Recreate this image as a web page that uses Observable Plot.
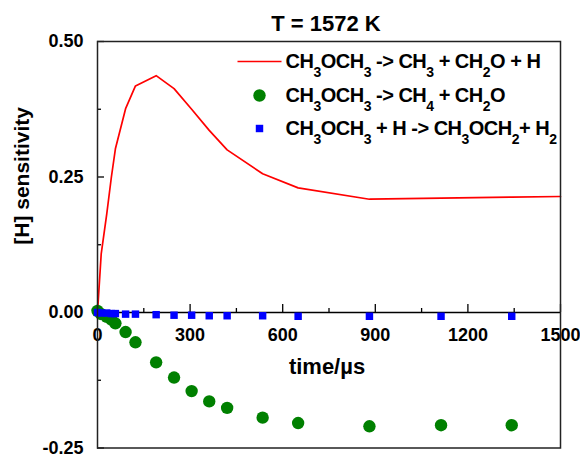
<!DOCTYPE html>
<html><head><meta charset="utf-8">
<script src="https://cdn.jsdelivr.net/npm/d3@7"></script>
<script src="https://cdn.jsdelivr.net/npm/@observablehq/plot@0.6"></script>
<style>body{margin:0;background:#fff} svg{display:block}</style>
</head><body><div id="chart"></div>
<script>
const title = "T = 1572 K";
const xLabel = "time/µs";
const yLabel = "[H] sensitivity";
const seriesNames = [
  "CH3OCH3 -> CH3 + CH2O + H",
  "CH3OCH3 -> CH4 + CH2O",
  "CH3OCH3 + H -> CH3OCH2+ H2"
];
const redTime  = [0, 12, 30, 45, 58, 91, 123, 190, 248, 305, 362, 420, 535, 650, 881, 1113, 1342, 1500];
const redValue = [0, 0.108, 0.182, 0.250, 0.302, 0.376, 0.418, 0.437, 0.413, 0.375, 0.336, 0.300, 0.256, 0.230, 0.209, 0.211, 0.213, 0.214];
const markerTime = [0, 12, 30, 45, 58, 91, 123, 190, 248, 305, 362, 420, 535, 650, 881, 1113, 1342];
const greenValue = [0.003, -0.003, -0.008, -0.013, -0.020, -0.036, -0.055, -0.092, -0.120, -0.145, -0.164, -0.176, -0.194, -0.204, -0.210, -0.208, -0.208];
const blueValue  = [0, -0.001, -0.001, -0.002, -0.002, -0.003, -0.003, -0.004, -0.005, -0.005, -0.006, -0.006, -0.006, -0.007, -0.007, -0.007, -0.007];
const xTickValues = [0, 300, 600, 900, 1200, 1500];
const xTickLabels = ["0", "300", "600", "900", "1200", "1500"];
const xMinorTicks = [150, 450, 750, 1050, 1350];
const yTickValues = [-0.25, 0, 0.25, 0.5];
const yTickLabels = ["-0.25", "0.00", "0.25", "0.50"];
const yMinorTicks = [-0.125, 0.125, 0.375];

const redData = redTime.map((t, i) => ({t, v: redValue[i]}));
const greenData = markerTime.map((t, i) => ({t, v: greenValue[i]}));
const blueData = markerTime.map((t, i) => ({t, v: blueValue[i]}));
const font = "Liberation Sans, Arial, sans-serif";
const lineSymbol = {draw(ctx) { ctx.moveTo(-22, 0); ctx.lineTo(22, 0); }};
const rowDy = [20, 54, 87];
const legendText = (name, k) => Plot.text([name], {frameAnchor: "top-left", lineAnchor: "middle", dx: 188, dy: rowDy[k], textAnchor: "start", fontSize: 20, fontWeight: "bold", fill: "#000"});

const svg = Plot.plot({
  width: 580, height: 456,
  marginLeft: 97, marginRight: 20, marginTop: 41, marginBottom: 8.5,
  style: {fontFamily: font, background: "#fff", overflow: "visible"},
  x: {domain: [0, 1500], axis: null},
  y: {domain: [-0.25, 0.5], axis: null},
  marks: [
    Plot.ruleY([0], {stroke: "#000", strokeWidth: 1.5}),
    Plot.ruleX(xTickValues, {x: d => d, y1: 0, y2: 0, insetTop: -8, stroke: "#000", strokeWidth: 1.3}),
    Plot.ruleX(xMinorTicks, {x: d => d, y1: 0, y2: 0, insetTop: -4, stroke: "#000", strokeWidth: 1.3}),
    Plot.ruleY(yTickValues, {y: d => d, x1: 0, x2: 0, insetRight: -7, stroke: "#000", strokeWidth: 1.3}),
    Plot.ruleY(yMinorTicks, {y: d => d, x1: 0, x2: 0, insetRight: -4, stroke: "#000", strokeWidth: 1.3}),
    Plot.text(xTickValues, {x: d => d, y: 0, text: (d, i) => xTickLabels[i], dy: 23, fontSize: 18, fontWeight: "bold", fill: "#000"}),
    Plot.text(yTickValues, {y: d => d, frameAnchor: "left", text: (d, i) => yTickLabels[i], dx: -14, textAnchor: "end", fontSize: 18, fontWeight: "bold", fill: "#000"}),
    Plot.line(redData, {x: "t", y: "v", stroke: "#ff0000", strokeWidth: 1.7}),
    Plot.dot(greenData, {x: "t", y: "v", r: 6.2, fill: "#008000", stroke: "none"}),
    Plot.dot(blueData, {x: "t", y: "v", r: 4.2, symbol: "square", fill: "#0000ff", stroke: "none"}),
    Plot.frame({stroke: "#222", strokeWidth: 1.5}),
    Plot.text([title], {frameAnchor: "top", lineAnchor: "middle", dx: -3, dy: -18, fontSize: 22, fontWeight: "bold", fill: "#000"}),
    Plot.text([xLabel], {frameAnchor: "middle", lineAnchor: "middle", dx: -2, dy: 122, fontSize: 22, fontWeight: "bold", fill: "#000"}),
    Plot.text([yLabel], {frameAnchor: "left", lineAnchor: "middle", dx: -75, rotate: -90, fontSize: 21, fontWeight: "bold", fill: "#000"}),
    // legend
    Plot.dot([seriesNames[0]], {frameAnchor: "top-left", dx: 162, dy: rowDy[0], symbol: lineSymbol, stroke: "#ff0000", strokeWidth: 1.7, fill: "none"}),
    Plot.dot([seriesNames[1]], {frameAnchor: "top-left", dx: 162, dy: rowDy[1], r: 6.2, fill: "#008000", stroke: "none"}),
    Plot.dot([seriesNames[2]], {frameAnchor: "top-left", dx: 162, dy: rowDy[2], r: 4.2, symbol: "square", fill: "#0000ff", stroke: "none"}),
    ...seriesNames.map(legendText)
  ]
});

// render chemical subscripts of the legend labels as tspans
svg.querySelectorAll("text").forEach(node => {
  const s = node.textContent;
  if (!seriesNames.includes(s)) return;
  const el = d3.select(node);
  el.attr("letter-spacing", "-0.5");
  el.text(null);
  const segs = [];
  for (let i = 0; i < s.length; i++) {
    const c = s[i];
    const sub = /\d/.test(c) && i > 0 && /[A-Za-z]/.test(s[i - 1]);
    if (segs.length && segs[segs.length - 1].sub === sub) segs[segs.length - 1].t += c;
    else segs.push({t: c, sub});
  }
  let shifted = false;
  for (const g of segs) {
    const ts = el.append("tspan").text(g.t);
    if (g.sub) { ts.attr("dy", 9).attr("font-size", 14); shifted = true; }
    else if (shifted) { ts.attr("dy", -9); shifted = false; }
  }
});
document.getElementById("chart").append(svg);
</script>
</body></html>
